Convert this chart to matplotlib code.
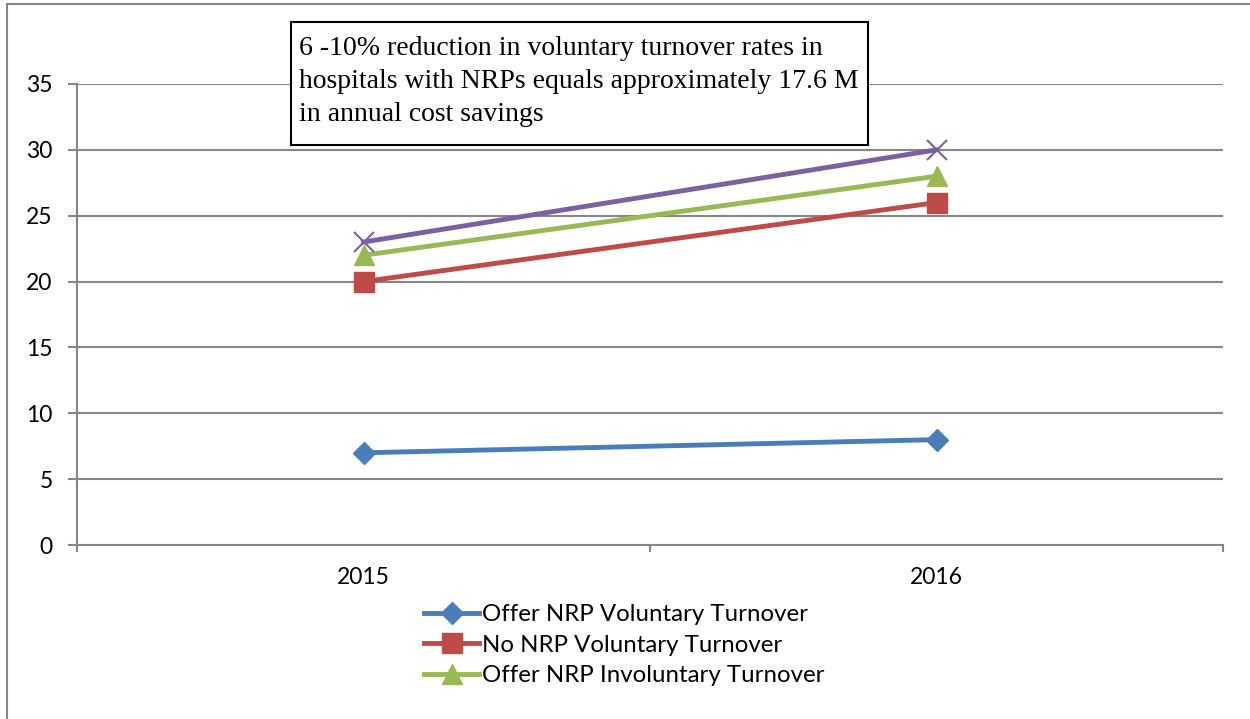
import numpy as np
import matplotlib.pyplot as plt
from matplotlib.patches import Rectangle
from matplotlib.lines import Line2D

years = ['2015', '2016']
offer_vol = [7, 8]
no_vol = [20, 26]
offer_invol = [22, 28]
no_invol = [23, 30]

labels = ['Offer NRP Voluntary Turnover', 'No NRP Voluntary Turnover',
          'Offer NRP Involuntary Turnover']
note = ('6 -10% reduction in voluntary turnover rates in\n'
        'hospitals with NRPs equals approximately 17.6 M\n'
        'in annual cost savings')

grid_c = '#868686'
sans = 'Lato'

fig = plt.figure(figsize=(12.5, 7.19), dpi=100)
ax = fig.add_axes([77 / 1250, 1 - 545 / 719, 1146 / 1250, 461 / 719])

x = np.arange(len(years))
h1, = ax.plot(x, offer_vol, color='#4A7EBB', lw=3.5, marker='D', ms=11,
              label=labels[0], zorder=3)
h2, = ax.plot(x, no_vol, color='#BE4B48', lw=3.5, marker='s', ms=14,
              label=labels[1], zorder=3)
h3, = ax.plot(x, offer_invol, color='#98B954', lw=3.5, marker='^', ms=15,
              label=labels[2], zorder=3)
ax.plot(x, no_invol, color='#7D60A0', lw=3.5, marker='x', ms=14, mew=1.5,
        zorder=3)

ax.set_xlim(-0.5, 1.5)
ax.set_ylim(0, 35)
ax.set_yticks(np.arange(0, 36, 5))
ax.yaxis.grid(True, color=grid_c, lw=1.5)
ax.set_axisbelow(True)

ax.set_xticks(x)
ax.set_xticklabels(years)
ax.set_xticks([-0.5, 0.5, 1.5], minor=True)
ax.tick_params(axis='x', which='major', length=0, pad=16)
ax.tick_params(axis='x', which='minor', length=5, width=1.5, color=grid_c)
ax.tick_params(axis='y', length=6.5, width=1.5, color=grid_c, pad=11)
for lab in ax.get_xticklabels() + ax.get_yticklabels():
    lab.set_fontfamily(sans)
    lab.set_fontsize(16.5)

for s in ['top', 'right']:
    ax.spines[s].set_visible(False)
for s in ['left', 'bottom']:
    ax.spines[s].set_color(grid_c)
    ax.spines[s].set_linewidth(1.5)

# legend below plot (purple series not listed)
fig.legend(handles=[h1, h2, h3], loc='upper left',
           bbox_to_anchor=(424 / 1250, 1 - 604 / 719), frameon=False,
           prop={'family': sans, 'size': 17.3}, handlelength=2.3,
           handletextpad=0.1, labelspacing=0.4, borderpad=0, borderaxespad=0)

# annotation box
fig.patches.append(Rectangle((291 / 1250, 1 - 145 / 719), 577 / 1250, 123 / 719,
                             transform=fig.transFigure, facecolor='white',
                             edgecolor='black', lw=1.5, zorder=5))
fig.text(299 / 1250, 1 - 36 / 719, note, ha='left', va='top',
         family='Liberation Serif', fontsize=20, linespacing=1.42, zorder=6)

# outer chart border
fig.add_artist(Line2D([7 / 1250, 7 / 1250], [0, 1 - 4 / 719],
                      transform=fig.transFigure, color=grid_c, lw=1.5))
fig.add_artist(Line2D([7 / 1250, 1], [1 - 4 / 719, 1 - 4 / 719],
                      transform=fig.transFigure, color=grid_c, lw=1.5))

fig.savefig('out.png', dpi=100)
